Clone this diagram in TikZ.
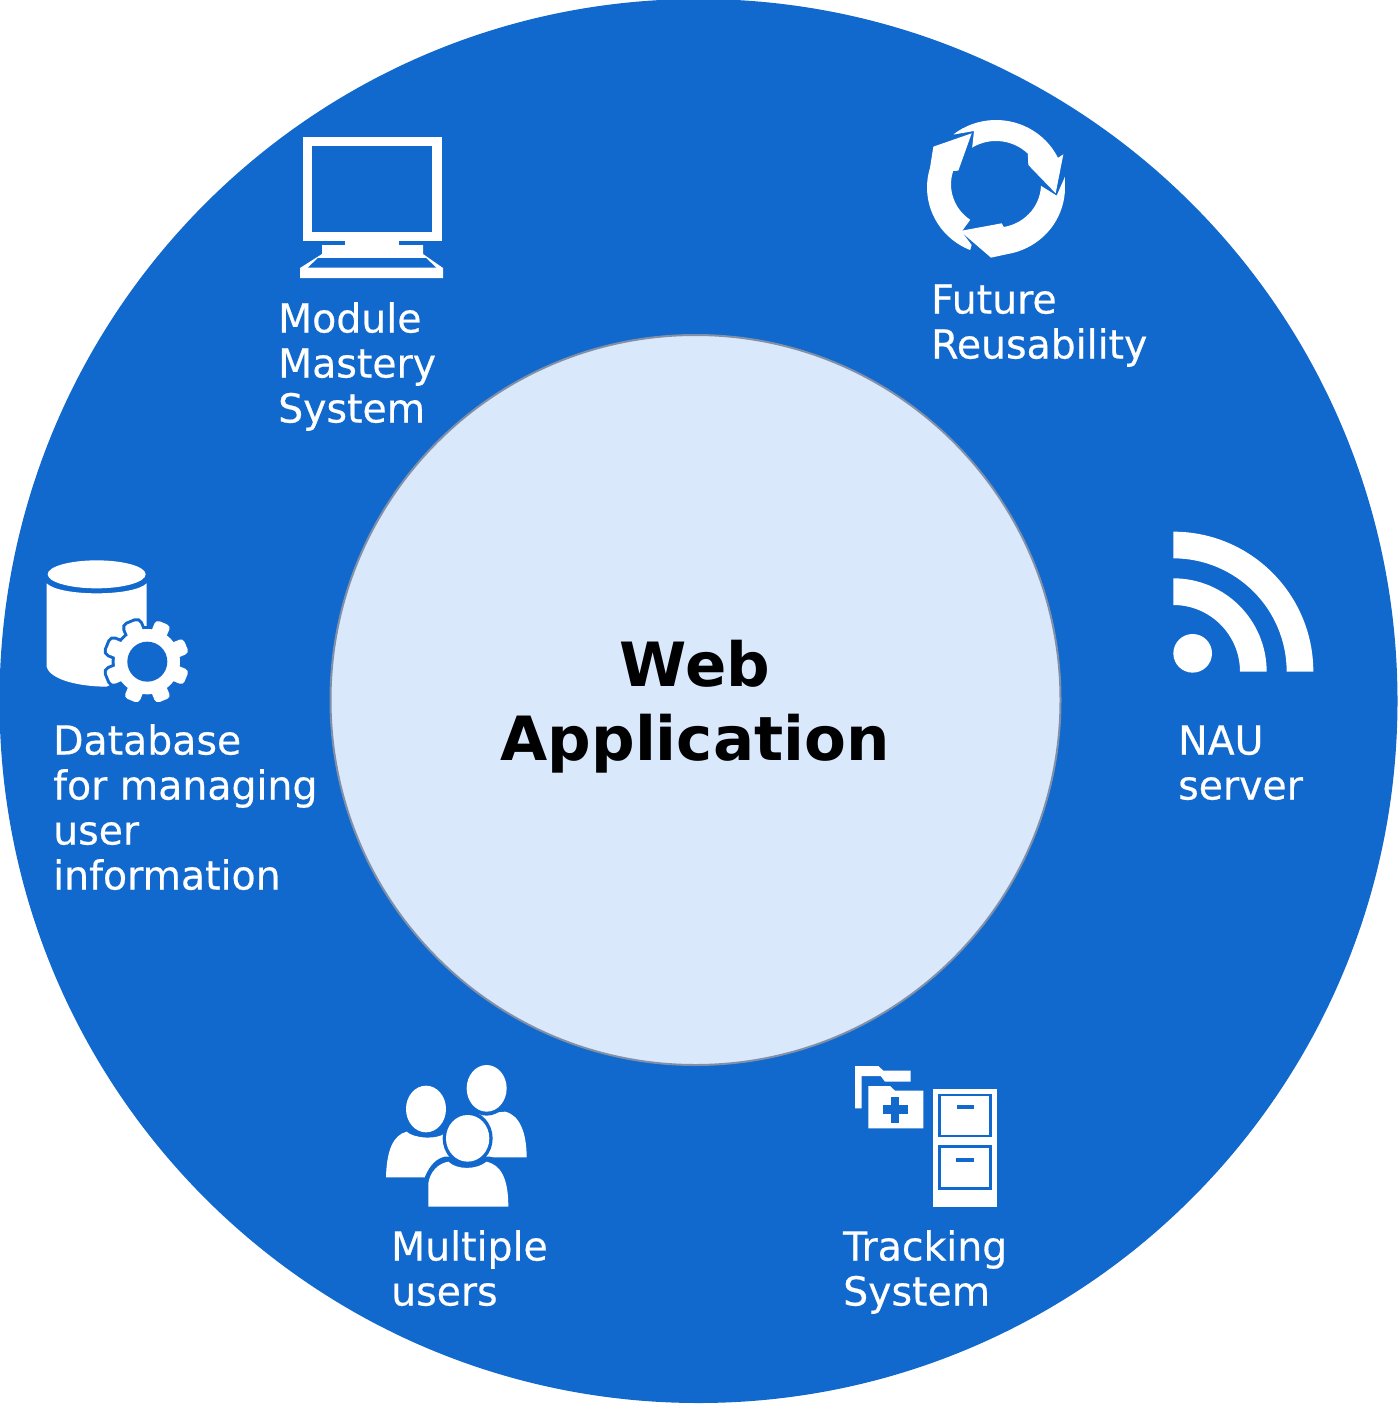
\documentclass[tikz,border=0pt]{standalone}
\usepackage{fontspec}
\setmainfont{DejaVu Sans}
\newfontfamily\ringfont[FakeStretch=0.985,FakeBold=0.5]{DejaVu Sans}
\newfontfamily\boldlabel{DejaVu Sans Bold}
\definecolor{ringblue}{HTML}{1168CD}
\definecolor{hubfill}{HTML}{DAE8FC}
\definecolor{hubedge}{HTML}{7F90A8}
\tikzset{
  ring/.style={fill=ringblue,draw=none},
  hub/.style={fill=hubfill,draw=hubedge,line width=2pt},
  ringlabel/.style={anchor=base west,inner sep=0pt,text=white,align=left,font=\ringfont\fontsize{40}{45}\selectfont},
  hublabel/.style={anchor=base,inner sep=0pt,text=black,align=center,font=\boldlabel\fontsize{61}{74}\selectfont},
  icon/.style={fill=white,draw=none},
  cut/.style={fill=ringblue,draw=none},
}
\newcommand{\gearshape}[1]{%
  \foreach \a in {22.5,67.5,...,337.5}{
    \path[#1,rotate around={\a:(352,350)},rounded corners=4pt] (328,350) rectangle (376,224);
  }
  \path[#1] (352,350) circle (98);
}
\begin{document}
\begin{tikzpicture}[x=1pt,y=-1pt]
\useasboundingbox (0,0) rectangle (1398,1407);
\path[ring] (698.5,701) ellipse [x radius=699,y radius=702];
\node[hub,circle,minimum size=730pt,inner sep=0pt] (hub) at (695.5,700) {};
\node[hublabel] (title) at (695,760) {Web\\Application};

% Module Mastery System: monitor
\path[icon] (303,137) rectangle (442,241);
\path[cut] (312,146) rectangle (432,232);
\path[icon] (345,240) rectangle (399,247);
\path[icon] (322,245) -- (423,245) -- (423,254) -- (443,268) -- (443,278) -- (300,278) -- (300,268) -- (322,254) -- cycle;
\path[cut] (318,258) -- (426,258) -- (436,267.5) -- (308,267.5) -- cycle;
\node[ringlabel] (module) at (278,422.5) {Module\\Mastery\\System};

% Future Reusability: three arrows
\begin{scope}[shift={(910,105)},scale=0.3333]
\path[icon] (135,88)
  -- plot[domain=-128:-26,samples=24] ({258+207*cos(\x)},{247.5+202.5*sin(\x)})
  -- (460,148) -- (437,265) -- (355,180)
  -- plot[domain=-45:-122,samples=16] ({258+135*cos(\x)},{238+130*sin(\x)})
  -- (192,78) -- cycle;
\path[icon] (465,215)
  -- plot[domain=-4:76,samples=20] ({258+207*cos(\x)},{247.5+202.5*sin(\x)})
  -- (243,458) -- (150,378) -- (275,355)
  -- plot[domain=80:2,samples=16] ({258+135*cos(\x)},{238+130*sin(\x)})
  -- (440,272) -- cycle;
\path[icon] (185,420)
  -- plot[domain=112:197,samples=20] ({258+207*cos(\x)},{247.5+202.5*sin(\x)})
  -- (70,125) -- (185,85) -- (145,197)
  -- plot[domain=198:125,samples=16] ({258+135*cos(\x)},{238+130*sin(\x)})
  -- (155,380) -- cycle;
\end{scope}
\node[ringlabel] (future) at (931,358.5) {Future\\Reusability};

% Database: cylinder and gear
\begin{scope}[shift={(30,545)},scale=0.3333]
\path[icon] (50,115) -- (50,365) .. controls (60,405) and (150,425) .. (230,425) -- (350,365) -- (350,115) .. controls (310,155) and (90,155) .. (50,115) -- cycle;
\path[icon] (200,88) ellipse [x radius=147,y radius=42];
\gearshape{draw=ringblue,line width=6pt,fill=ringblue}
\gearshape{fill=white}
\path[cut] (352,350) circle (60);
\end{scope}
\node[ringlabel] (database) at (53,889.5) {Database\\for managing\\user\\information};

% NAU server: feed
\begin{scope}[shift={(1155,515)},scale=0.3333]
\path[icon] (55,50) arc[start angle=-90,end angle=0,radius=420] -- (395,470) arc[start angle=0,end angle=-90,radius=340] -- cycle;
\path[icon] (55,190) arc[start angle=-90,end angle=0,radius=280] -- (255,470) arc[start angle=0,end angle=-90,radius=200] -- cycle;
\path[icon] (113,415) circle (58);
\end{scope}
\node[ringlabel] (nau) at (1178,799.5) {NAU\\server};

% Multiple users
\begin{scope}[shift={(370,1050)},scale=0.3333]
\path[icon] (250,322) -- (250,200) -- (405,185) .. controls (450,195) and (470,250) .. (470,322) -- cycle;
\path[cut] (350,115) ellipse [x radius=72,y radius=82];
\path[icon] (350,115) ellipse [x radius=60,y radius=70];
\path[icon] (48,382) .. controls (50,300) and (70,255) .. (110,245) .. controls (130,265) and (200,270) .. (225,250) -- (260,300) -- (260,382) -- cycle;
\path[icon] (168,177) ellipse [x radius=60,y radius=70];
\path[cut] (293,265) ellipse [x radius=75,y radius=82];
\path[cut] (165,470) -- (165,380) .. controls (180,345) and (200,325) .. (225,320) -- (360,320) .. controls (400,330) and (425,370) .. (425,470) -- cycle;
\path[icon] (175,470) -- (175,400) .. controls (180,365) and (205,340) .. (235,335) .. controls (260,360) and (320,360) .. (350,335) .. controls (390,345) and (415,380) .. (415,470) -- cycle;
\path[icon] (293,265) ellipse [x radius=65,y radius=70];
\end{scope}
\node[ringlabel] (users) at (391,1305.5) {Multiple\\users};

% Tracking System: folders and cabinet
\begin{scope}[shift={(840,1050)},scale=0.3333]
\path[icon] (45,175) -- (45,48) -- (115,48) -- (130,62) -- (212,62) -- (212,95) -- (135,95) -- (122,78) -- (65,78) -- (65,175) -- cycle;
\path[icon] (85,108) -- (150,108) -- (165,122) -- (250,122) -- (250,235) -- (85,235) -- cycle;
\path[cut] (128,165) rectangle (205,192);
\path[cut] (152,140) rectangle (178,218);
\path[icon] (278,118) rectangle (470,470);
\path[icon,draw=ringblue,line width=2.5pt] (298,135) rectangle (452,258);
\path[icon,draw=ringblue,line width=2.5pt] (298,290) rectangle (452,415);
\path[cut] (350,166) rectangle (402,178);
\path[cut] (347,323) rectangle (402,335);
\end{scope}
\node[ringlabel] (tracking) at (843,1305.5) {Tracking\\System};
\end{tikzpicture}
\end{document}
